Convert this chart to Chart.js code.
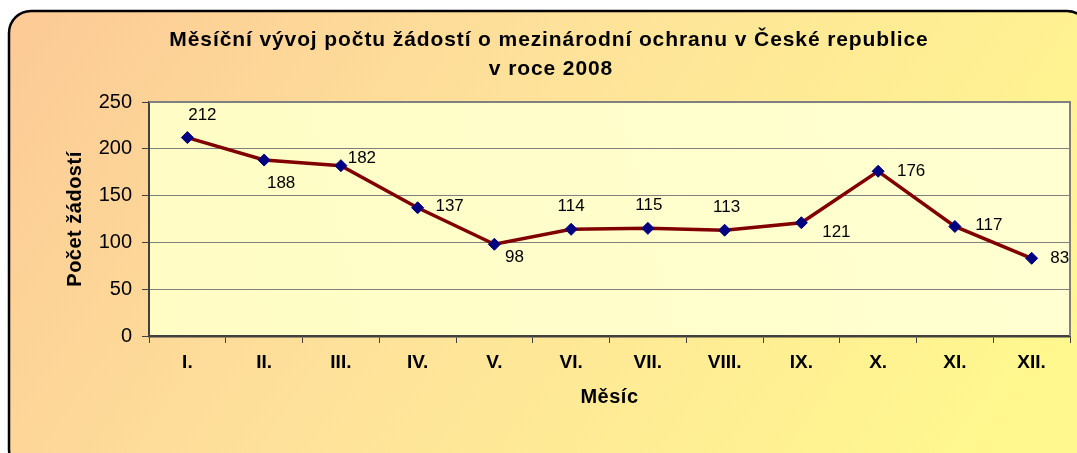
<!DOCTYPE html>
<html lang="cs">
<head>
<meta charset="utf-8">
<title>Žádosti o mezinárodní ochranu 2008</title>
<script src="https://cdn.jsdelivr.net/npm/chart.js@4/dist/chart.umd.min.js"></script>
<style>
  html, body { margin: 0; padding: 0; background: #fff; }
  canvas { display: block; }
</style>
</head>
<body>
<canvas id="graf" width="1077" height="453"></canvas>
<script>
// Data grafu
const mesice = ['I.', 'II.', 'III.', 'IV.', 'V.', 'VI.', 'VII.', 'VIII.', 'IX.', 'X.', 'XI.', 'XII.'];
const pocetZadosti = [212, 188, 182, 137, 98, 114, 115, 113, 121, 176, 117, 83];
const osaYTicks = [0, 50, 100, 150, 200, 250];

const titulek = ['Měsíční vývoj počtu žádostí o mezinárodní ochranu v České republice', 'v roce 2008'];
const titulekX = 'Měsíc';
const titulekY = 'Počet žádostí';

// posun popisků hodnot vůči bodům (px)
const popiskyDx = [15, 17, 21, 32, 20, 0, 1, 2, 35, 33, 34, 28];
const popiskyDy = [-22, 23, -7, -1, 13, -23, -23, -23, 10, 0, -1, 0];

const pismo = '"Liberation Sans", Arial, sans-serif';
Chart.defaults.font.family = pismo;
Chart.defaults.color = '#000';

// Pozadí + rámeček + plocha grafu
const pozadiPlugin = {
    id: 'pozadi',
    beforeDraw(chart) {
        const { ctx, chartArea: a } = chart;
        ctx.save();
        ctx.fillStyle = '#fff';
        ctx.fillRect(0, 0, chart.width, chart.height);

        const g = ctx.createLinearGradient(9, 11, 900, 600);
        g.addColorStop(0, '#fcca96');
        g.addColorStop(0.45, '#fee29a');
        g.addColorStop(1, '#fff88e');
        ctx.beginPath();
        ctx.roundRect(9, 11, 1080, 460, 22);
        ctx.fillStyle = g;
        ctx.fill();
        ctx.lineWidth = 2.5;
        ctx.strokeStyle = '#000';
        ctx.stroke();

        const gp = ctx.createLinearGradient(a.left, a.bottom, a.right, a.top);
        gp.addColorStop(0, '#fffdc4');
        gp.addColorStop(1, '#ffffd2');
        ctx.fillStyle = gp;
        ctx.fillRect(a.left, a.top, a.right - a.left, a.bottom - a.top);
        ctx.restore();
    },
    afterDraw(chart) {
        const { ctx, chartArea: a } = chart;
        ctx.save();
        // okraj plochy (nahoře a vpravo)
        ctx.strokeStyle = '#808080';
        ctx.lineWidth = 2;
        ctx.beginPath();
        ctx.moveTo(a.left, a.top);
        ctx.lineTo(a.right, a.top);
        ctx.lineTo(a.right, a.bottom);
        ctx.stroke();

        // popisky hodnot
        const meta = chart.getDatasetMeta(0);
        ctx.fillStyle = '#000';
        ctx.font = '17px ' + pismo;
        ctx.textAlign = 'center';
        ctx.textBaseline = 'middle';
        meta.data.forEach((bod, i) => {
            ctx.fillText(String(pocetZadosti[i]), bod.x + popiskyDx[i], bod.y + popiskyDy[i]);
        });

        // nadpis
        ctx.font = 'bold 21px ' + pismo;
        ctx.letterSpacing = '0.9px';
        ctx.textBaseline = 'alphabetic';
        ctx.fillText(titulek[0], 549, 46);
        ctx.fillText(titulek[1], 551, 75);

        // názvy os
        ctx.font = 'bold 20px ' + pismo;
        ctx.letterSpacing = '0.5px';
        ctx.fillText(titulekX, (a.left + a.right) / 2, 403);
        ctx.translate(81, (a.top + a.bottom) / 2);
        ctx.rotate(-Math.PI / 2);
        ctx.fillText(titulekY, 0, 0);
        ctx.restore();
    }
};

new Chart(document.getElementById('graf'), {
    type: 'line',
    data: {
        labels: mesice,
        datasets: [{
            data: pocetZadosti,
            borderColor: '#800000',
            borderWidth: 3.5,
            tension: 0,
            pointStyle: 'rectRot',
            pointRadius: 6,
            pointBackgroundColor: '#000080',
            pointBorderColor: '#000080',
            pointBorderWidth: 1
        }]
    },
    options: {
        responsive: false,
        animation: false,
        layout: { padding: { top: 102, left: 0, right: 4, bottom: 0 } },
        plugins: {
            legend: { display: false },
            title: { display: false },
            tooltip: { enabled: false }
        },
        scales: {
            x: {
                offset: true,
                grid: {
                    offset: true,
                    drawOnChartArea: false,
                    tickLength: 7,
                    tickColor: '#404040',
                    tickWidth: 1
                },
                border: { color: '#404040', width: 2.5 },
                ticks: {
                    font: { size: 19, weight: 'bold' },
                    padding: 8,
                    color: '#000'
                },
                afterFit(scale) { scale.height = 117; }
            },
            y: {
                min: 0,
                max: 250,
                afterBuildTicks(scale) {
                    scale.ticks = osaYTicks.map(v => ({ value: v }));
                },
                grid: {
                    color: '#808080',
                    lineWidth: 1,
                    tickLength: 7,
                    tickColor: '#404040'
                },
                border: { color: '#404040', width: 2 },
                ticks: {
                    font: { size: 20 },
                    padding: 10,
                    color: '#000'
                },
                afterFit(scale) { scale.width = 149; }
            }
        }
    },
    plugins: [pozadiPlugin]
});
</script>
</body>
</html>
